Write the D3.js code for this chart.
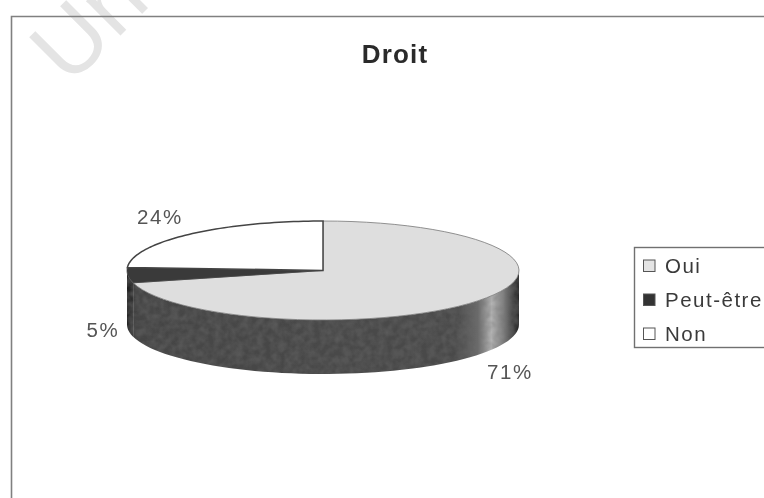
<!DOCTYPE html>
<html>
<head>
<meta charset="utf-8">
<script src="https://cdn.jsdelivr.net/npm/d3@7/dist/d3.min.js"></script>
<style>
  html, body { margin: 0; padding: 0; background: #fff; }
  svg { display: block; filter: blur(0.7px); }
  text { font-family: "Liberation Sans", Arial, sans-serif; fill: #555; }
</style>
</head>
<body>
<div id="app"></div>
<script>
const categories = ["Oui", "Peut-être", "Non"];
const values = [71, 5, 24];
const topColors = ["#dedede", "#3a3a3a", "#ffffff"];
const legendColors = ["#e4e4e4", "#333333", "#ffffff"];

const width = 764, height = 498;
const cx = 323, cy = 270.5, rx = 196, ry = 49.5, depth = 54;

const svg = d3.select("#app").append("svg")
  .attr("width", width)
  .attr("height", height);

const defs = svg.append("defs");

// side wall shading, dark with the light patch near the right edge
const grad = defs.append("linearGradient")
  .attr("id", "wall")
  .attr("gradientUnits", "userSpaceOnUse")
  .attr("x1", cx - rx).attr("x2", cx + rx)
  .attr("y1", 0).attr("y2", 0);
[[0, "#1c1c1c"], [0.025, "#454545"], [0.84, "#4a4a4a"], [0.895, "#6a6a6a"],
 [0.93, "#b4b4b4"], [0.96, "#808080"], [0.985, "#444444"], [1, "#222222"]]
  .forEach(d => grad.append("stop").attr("offset", d[0]).attr("stop-color", d[1]));

// scanned look on the grey surfaces
const grain = defs.append("filter").attr("id", "grain");
grain.append("feTurbulence")
  .attr("type", "fractalNoise")
  .attr("baseFrequency", 0.14)
  .attr("numOctaves", 2)
  .attr("seed", 4)
  .attr("result", "n");
grain.append("feColorMatrix")
  .attr("in", "n")
  .attr("type", "matrix")
  .attr("values", "0 0 0 0 0.15  0 0 0 0 0.15  0 0 0 0 0.15  0.7 0 0 0 -0.2")
  .attr("result", "spots");
grain.append("feComposite")
  .attr("in", "spots")
  .attr("in2", "SourceGraphic")
  .attr("operator", "atop");

// watermark cut by the top edge
svg.append("text")
  .attr("transform", "translate(69,87) rotate(-45)")
  .attr("font-size", 92)
  .style("fill", "#e4e4e4")
  .text("Un");

// frame of the chart area
svg.append("path")
  .attr("d", `M11.5,${height} V16.5 H${width}`)
  .attr("fill", "none")
  .attr("stroke", "#808080")
  .attr("stroke-width", 1.6);

svg.append("text")
  .attr("x", 395).attr("y", 63)
  .attr("text-anchor", "middle")
  .attr("font-size", 26)
  .attr("font-weight", "bold")
  .attr("letter-spacing", 1.2)
  .style("fill", "#2a2a2a")
  .text("Droit");

const slices = d3.pie().sort(null)(values);

// angle is clockwise from 12 o'clock, flattened to an ellipse
const px = a => cx + rx * Math.sin(a);
const py = a => cy - ry * Math.cos(a);
const sample = (a0, a1) => d3.range(0, 61).map(i => a0 + (a1 - a0) * i / 60);
const line = d3.line();

// walls first: only the front half of the rim shows
const front0 = Math.PI / 2, front1 = Math.PI * 1.5;
slices.forEach(s => {
  const a0 = Math.max(s.startAngle, front0);
  const a1 = Math.min(s.endAngle, front1);
  if (a1 <= a0) return;
  const rim = sample(a0, a1);
  const pts = rim.map(a => [px(a), py(a)])
    .concat(rim.slice().reverse().map(a => [px(a), py(a) + depth]));
  svg.append("path")
    .attr("d", line(pts) + "Z")
    .attr("fill", "url(#wall)")
    .attr("filter", "url(#grain)");
});

// top faces
slices.forEach((s, i) => {
  const pts = [[cx, cy]].concat(sample(s.startAngle, s.endAngle).map(a => [px(a), py(a)]));
  svg.append("path")
    .attr("d", line(pts) + "Z")
    .attr("fill", topColors[i])
    .attr("stroke", i === 0 ? "#777" : "#444")
    .attr("stroke-width", i === 2 ? 1.5 : 0.8);
});

// slice labels
const labelPos = [[510, 372], [103, 330], [160, 217]];
slices.forEach((s, i) => {
  svg.append("text")
    .attr("x", labelPos[i][0]).attr("y", labelPos[i][1] + 7)
    .attr("text-anchor", "middle")
    .attr("font-size", 20.5)
    .attr("letter-spacing", 1.6)
    .text(values[i] + "%");
});

// legend, runs off the right side of the picture
svg.append("rect")
  .attr("x", 634.5).attr("y", 247.5)
  .attr("width", 140).attr("height", 100)
  .attr("fill", "#fff")
  .attr("stroke", "#707070")
  .attr("stroke-width", 1.4);

const legendY = d3.scalePoint().domain(categories).range([266, 334]);
categories.forEach((c, i) => {
  const y = legendY(c);
  svg.append("rect")
    .attr("x", 643.5).attr("y", y - 6)
    .attr("width", 11.5).attr("height", 11.5)
    .attr("fill", legendColors[i])
    .attr("stroke", "#555");
  svg.append("text")
    .attr("x", 665).attr("y", y + 6.5)
    .attr("font-size", 20.5)
    .attr("letter-spacing", 1.5)
    .style("fill", "#3a3a3a")
    .text(c);
});
</script>
</body>
</html>
